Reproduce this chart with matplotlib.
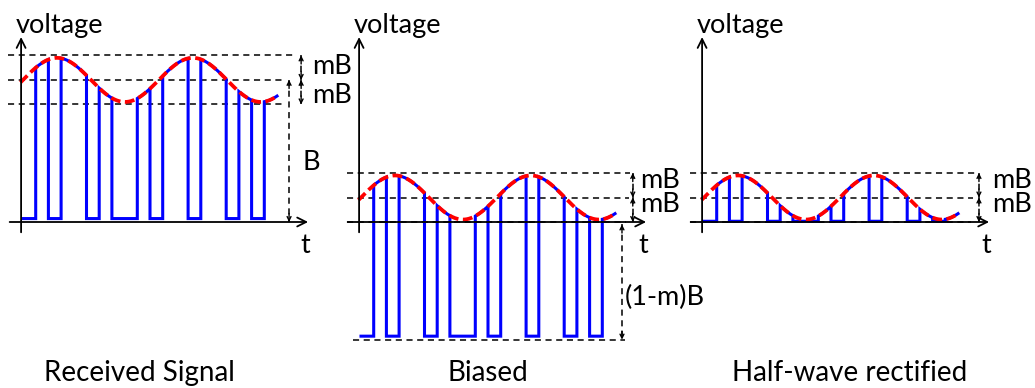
import numpy as np
import matplotlib.pyplot as plt

plt.rcParams['font.family'] = ['Lato', 'DejaVu Sans']

# on/off keying bits of the received signal (one bit per time unit)
bits = [0, 1, 0, 1, 1, 0, 1, 0, 0, 1, 0, 1, 1, 0, 1, 1, 0, 1, 0, 1]

# levels in units of mB, measured from the time axis
B = 5.8
mB = 1.0
env_amp = 0.9       # envelope swing drawn a bit inside the mB lines
env_period = 10.7   # in bit periods
env_phase = 0.0
pulse_low = 0.14
bias = B - mB       # (1-m)B removed by the bias stage

titles = ['Received Signal', 'Biased', 'Half-wave rectified']

# layout: pixel position of t=0 for each panel, pixel scales
FIG_W, FIG_H = 1035, 388
panel_x0 = [23, 361, 704]
AXIS_Y = 222
BW = 12.7    # px per bit
U = 24.5     # px per mB


def envelope(t):
    return B + env_amp * np.sin(2 * np.pi * (t - env_phase) / env_period)


def pulse_train():
    ts, vs = [], []
    for i, b in enumerate(bits):
        t = np.linspace(i, i + 1, 25)
        ts.append(t)
        vs.append(envelope(t) if b else np.full_like(t, pulse_low))
    return np.concatenate(ts), np.concatenate(vs)


def dim_arrow(ax, t, v_from, v_to):
    ax.plot([t, t], [v_from, v_to], ls=(0, (4, 3)), lw=1.1, color='k')
    for tip, other in ((v_from, v_to), (v_to, v_from)):
        d = 0.35 * np.sign(other - tip)
        ax.annotate('', xy=(t, tip), xytext=(t, tip + d),
                    arrowprops=dict(arrowstyle='->', lw=1.0, color='k',
                                    mutation_scale=7, shrinkA=0, shrinkB=0))


def hline(ax, v, t0, t1):
    ax.plot([t0, t1], [v, v], ls=(0, (4, 3)), lw=1.1, color='k')


def axes_arrows(ax):
    kw = dict(arrowstyle='->', lw=1.3, color='k', mutation_scale=16,
              shrinkA=0, shrinkB=0)
    ax.annotate('', xy=(22.45, 0), xytext=(-1.05, 0), arrowprops=kw)
    ax.annotate('', xy=(-0.15, 7.55), xytext=(-0.15, -0.42), arrowprops=kw)


t_sig, v_sig = pulse_train()
t_env = np.linspace(-0.2, 20.1, 400)
v_env = envelope(t_env)

signals = [
    (v_sig, v_env),
    (v_sig - bias, v_env - bias),
    (np.maximum(v_sig - bias, 0.03), v_env - bias),
]

fig = plt.figure(figsize=(FIG_W / 100, FIG_H / 100), dpi=100)
txt = dict(fontsize=19.5, color='k')

for k, x0 in enumerate(panel_x0):
    ax = fig.add_axes([0, 0, 1, 1])
    ax.set_xlim(-x0 / BW, (FIG_W - x0) / BW)
    ax.set_ylim((AXIS_Y - FIG_H) / U, AXIS_Y / U)
    ax.axis('off')
    ax.patch.set_alpha(0)

    sig, env = signals[k]
    base = B if k == 0 else mB   # envelope centre in this panel

    # reference levels
    if k == 0:
        hline(ax, base + mB, -1.2, 21.5)
        hline(ax, base, -1.2, 20.6)
        hline(ax, base - mB, -1.2, 20.5)
        dim_arrow(ax, 21.9, base + mB, base)
        dim_arrow(ax, 21.9, base, base - mB)
        dim_arrow(ax, 20.95, base, 0)
        ax.text(22.0, 2.12, 'B', ha='left', va='baseline', **txt)
        ax.text(22.75, 6.04, 'mB', ha='left', va='baseline', **txt)
        ax.text(22.75, 4.86, 'mB', ha='left', va='baseline', **txt)
    else:
        right = 21.2 if k == 1 else 21.3
        hline(ax, base + mB, -1.1, right)
        hline(ax, base, -1.1, right - 0.1)
        hline(ax, base - mB, -1.1, right - 0.3)
        arr_t = 21.4 if k == 1 else 21.65
        dim_arrow(ax, arr_t, base + mB, base)
        dim_arrow(ax, arr_t, base, base - mB)
        lab_t = 21.97 if k == 1 else 22.7
        ax.text(lab_t, 1.39, 'mB', ha='left', va='baseline', **txt)
        ax.text(lab_t, 0.42, 'mB', ha='left', va='baseline', **txt)
    if k == 1:
        hline(ax, -bias, -0.6, 20.8)
        dim_arrow(ax, 20.55, -0.1, -bias)
        ax.text(20.8, -3.39, '(1-m)B', ha='left', va='baseline', **txt)

    axes_arrows(ax)

    ax.plot(t_sig, sig, color='#0000ff', lw=2.2, solid_joinstyle='miter')
    ax.plot(t_env, env, color='#ff0000', lw=2.7, ls=(0, (2.6, 1.2)))

    ax.text(-0.6, 7.71, 'voltage', ha='left', va='baseline', **txt)
    ax.text(22.25, -1.27, 't', ha='center', va='baseline', **txt)
    title_t = [9.2, 10.0, 11.5][k]
    ax.text(title_t, -6.5, titles[k], ha='center', va='baseline',
            fontsize=20, color='k')

fig.savefig('out.png', dpi=100)
